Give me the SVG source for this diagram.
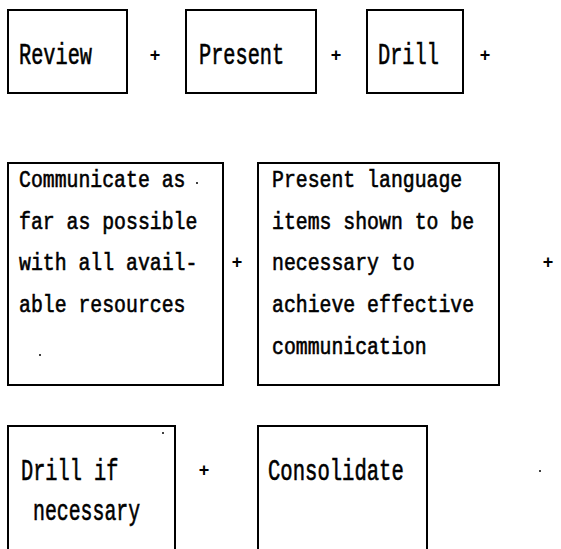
<svg xmlns="http://www.w3.org/2000/svg" width="561" height="549" viewBox="0 0 561 549">
<style>
.box{fill:none;stroke:#000;stroke-width:2}
.t{font-family:"Liberation Mono","DejaVu Sans Mono",monospace;fill:#000;stroke:#000;stroke-width:0.6}
.big{font-size:29px}
.mid{font-size:24px}
.plus{font-family:"Liberation Sans",sans-serif;font-weight:bold;font-size:18px;fill:#000;text-anchor:middle}
.dot{fill:#000}
</style>
<rect width="561" height="549" fill="#fff"/>
<g id="review"><rect class="box" x="8" y="10" width="119" height="83"/><text class="t big" transform="translate(19,64) scale(0.70,1)">Review</text></g>
<g id="present"><rect class="box" x="186" y="10" width="130" height="83"/><text class="t big" transform="translate(199,64) scale(0.70,1)">Present</text></g>
<g id="drill"><rect class="box" x="367" y="10" width="96" height="83"/><text class="t big" transform="translate(378,64) scale(0.70,1)">Drill</text></g>
<g id="communicate"><rect class="box" x="8" y="163" width="215" height="222"/>
<text class="t mid" transform="translate(19,187) scale(0.826,1)">Communicate as</text>
<text class="t mid" transform="translate(19,229) scale(0.826,1)">far as possible</text>
<text class="t mid" transform="translate(19,270) scale(0.826,1)">with all avail-</text>
<text class="t mid" transform="translate(19,312) scale(0.826,1)">able resources</text>
</g>
<g id="present-language"><rect class="box" x="258" y="163" width="241" height="222"/>
<text class="t mid" transform="translate(272,187) scale(0.826,1)">Present language</text>
<text class="t mid" transform="translate(272,229) scale(0.826,1)">items shown to be</text>
<text class="t mid" transform="translate(272,270) scale(0.826,1)">necessary to</text>
<text class="t mid" transform="translate(272,312) scale(0.826,1)">achieve effective</text>
<text class="t mid" transform="translate(272,354) scale(0.826,1)">communication</text>
</g>
<g id="drill-if"><rect class="box" x="8" y="426" width="167" height="140"/>
<text class="t big" transform="translate(21,480) scale(0.70,1)">Drill if</text>
<text class="t big" transform="translate(33,520) scale(0.684,1)">necessary</text>
</g>
<g id="consolidate"><rect class="box" x="258" y="426" width="169" height="140"/>
<text class="t big" transform="translate(268,480) scale(0.71,1)">Consolidate</text>
</g>
<g id="connectors">
<text class="plus" x="155" y="61">+</text>
<text class="plus" x="336" y="61">+</text>
<text class="plus" x="485" y="61">+</text>
<text class="plus" x="237" y="268">+</text>
<text class="plus" x="548" y="268">+</text>
<text class="plus" x="204" y="476">+</text>
</g>
<g id="specks">
<circle class="dot" cx="197" cy="183" r="1"/>
<circle class="dot" cx="40" cy="355" r="1"/>
<circle class="dot" cx="163" cy="433" r="1"/>
<circle class="dot" cx="540" cy="471" r="1"/>
</g>
</svg>
